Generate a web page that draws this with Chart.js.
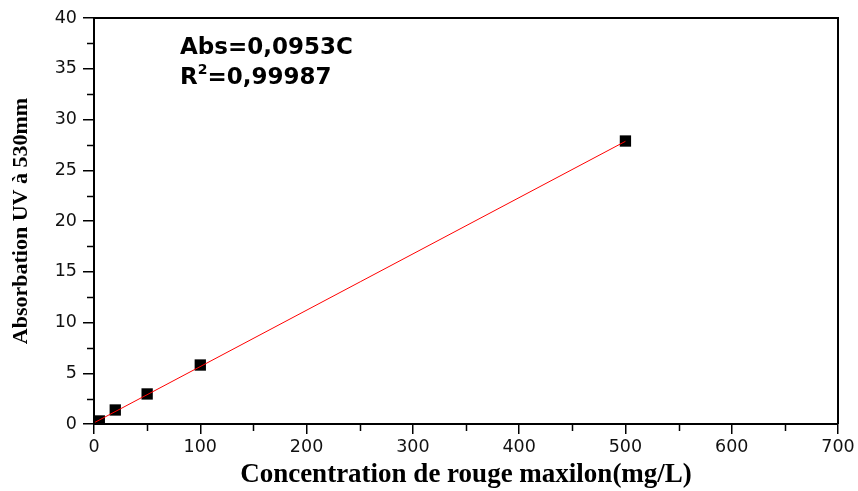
<!DOCTYPE html>
<html>
<head>
<meta charset="utf-8">
<script src="https://cdn.jsdelivr.net/npm/chart.js@4"></script>
<style>
  html, body { margin: 0; padding: 0; background: #fff; }
  #wrap { width: 858px; height: 491px; position: relative; }
</style>
</head>
<body>
<div id="wrap"><canvas id="chart"></canvas></div>
<script>
// measured points
const concentrations = [1, 5, 20, 50, 100, 500];
const absorbance = [0.1, 0.3, 1.38, 2.96, 5.81, 27.88];

// linear fit drawn in red
const fitX = [1, 500];
const fitY = [0.17, 27.85];

const xTicks = [0, 100, 200, 300, 400, 500, 600, 700];
const yTicks = [0, 5, 10, 15, 20, 25, 30, 35, 40];
const xMinor = [50, 150, 250, 350, 450, 550, 650];
const yMinor = [2.5, 7.5, 12.5, 17.5, 22.5, 27.5, 32.5, 37.5];

const equationText = 'Abs=0,0953C';
const r2Value = '=0,99987';

const tickFont = { family: 'DejaVu Sans', size: 17.5 };
const titleFont = { family: 'Liberation Serif', weight: 'bold' };

// minor ticks, top/right frame and the fit equation
const framePlugin = {
  id: 'frame',
  afterDraw(chart) {
    const { ctx, chartArea } = chart;
    const xs = chart.scales.x;
    const ys = chart.scales.y;
    ctx.save();
    ctx.strokeStyle = '#000';
    ctx.lineWidth = 1.5;
    ctx.beginPath();
    xMinor.forEach(v => {
      const px = Math.round(xs.getPixelForValue(v)) + 0.5;
      ctx.moveTo(px, chartArea.bottom);
      ctx.lineTo(px, chartArea.bottom + 7);
    });
    yMinor.forEach(v => {
      const py = Math.round(ys.getPixelForValue(v)) + 0.5;
      ctx.moveTo(chartArea.left, py);
      ctx.lineTo(chartArea.left - 7, py);
    });
    ctx.stroke();

    ctx.lineWidth = 2;
    ctx.beginPath();
    ctx.moveTo(chartArea.left, chartArea.top);
    ctx.lineTo(chartArea.right, chartArea.top);
    ctx.lineTo(chartArea.right, chartArea.bottom);
    ctx.stroke();

    ctx.fillStyle = '#000';
    ctx.textBaseline = 'alphabetic';
    ctx.font = 'bold 23px "DejaVu Sans"';
    ctx.fillText(equationText, 180, 54);
    ctx.fillText('R', 180, 84);
    let w = ctx.measureText('R').width;
    ctx.font = 'bold 14px "DejaVu Sans"';
    ctx.fillText('2', 180 + w, 74);
    w += ctx.measureText('2').width;
    ctx.font = 'bold 23px "DejaVu Sans"';
    ctx.fillText(r2Value, 180 + w, 84);
    ctx.restore();
  }
};

new Chart(document.getElementById('chart'), {
  type: 'scatter',
  data: {
    datasets: [
      {
        label: 'Fit',
        type: 'line',
        data: fitX.map((x, i) => ({ x, y: fitY[i] })),
        borderColor: '#ff0000',
        borderWidth: 1,
        pointRadius: 0,
        fill: false
      },
      {
        label: 'Abs',
        data: concentrations.map((x, i) => ({ x, y: absorbance[i] })),
        backgroundColor: '#000',
        borderColor: '#000',
        pointStyle: 'rect',
        pointRadius: 8,
        borderWidth: 0
      }
    ]
  },
  options: {
    responsive: true,
    maintainAspectRatio: false,
    animation: false,
    layout: { padding: { left: 0, right: 20, top: 18, bottom: 0 } },
    scales: {
      x: {
        type: 'linear',
        min: 0,
        max: 700,
        afterBuildTicks: s => { s.ticks = xTicks.map(v => ({ value: v })); },
        afterFit: s => { s.height = 67; },
        grid: { drawOnChartArea: false, color: '#000', lineWidth: 1.5, tickLength: 10 },
        border: { display: true, color: '#000', width: 2 },
        ticks: { color: '#111', font: tickFont, padding: 3, maxRotation: 0 },
        title: {
          display: true,
          text: 'Concentration de rouge maxilon(mg/L)',
          color: '#000',
          font: { ...titleFont, size: 27 },
          padding: { top: 2, bottom: 0 }
        }
      },
      y: {
        min: 0,
        max: 40,
        afterBuildTicks: s => { s.ticks = yTicks.map(v => ({ value: v })); },
        afterFit: s => { s.width = 94; },
        grid: { drawOnChartArea: false, color: '#000', lineWidth: 1.5, tickLength: 11 },
        border: { display: true, color: '#000', width: 2 },
        ticks: { color: '#111', font: tickFont, padding: 6 },
        title: {
          display: true,
          text: 'Absorbation UV à 530mm',
          color: '#000',
          font: { ...titleFont, size: 22 },
          padding: { top: 8, bottom: 0 }
        }
      }
    },
    plugins: {
      legend: { display: false },
      tooltip: { enabled: false }
    }
  },
  plugins: [framePlugin]
});
</script>
</body>
</html>
